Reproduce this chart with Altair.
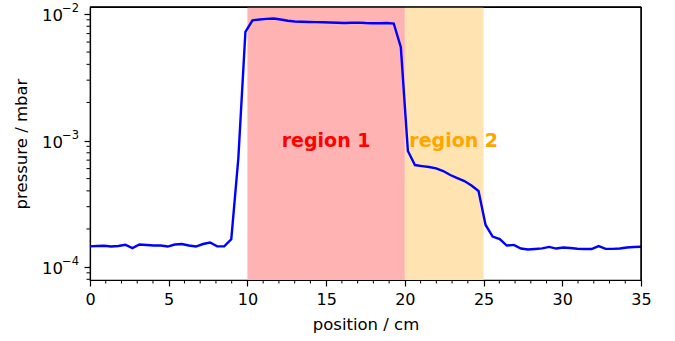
import altair as alt
import pandas as pd

# sample positions (cm)
position = [0.0, 0.449, 0.897, 1.346, 1.795, 2.244, 2.692, 3.141, 3.590, 4.038,
            4.487, 4.936, 5.385, 5.833, 6.282, 6.731, 7.179, 7.628, 8.077, 8.526,
            8.974, 9.423, 9.872, 10.321, 10.769, 11.218, 11.667, 12.115, 12.564, 13.013,
            13.462, 13.910, 14.359, 14.808, 15.256, 15.705, 16.154, 16.603, 17.051, 17.500,
            17.949, 18.397, 18.846, 19.295, 19.744, 20.192, 20.641, 21.090, 21.538, 21.987,
            22.436, 22.885, 23.333, 23.782, 24.231, 24.679, 25.128, 25.577, 26.026, 26.474,
            26.923, 27.372, 27.821, 28.269, 28.718, 29.167, 29.615, 30.064, 30.513, 30.962,
            31.410, 31.859, 32.308, 32.756, 33.205, 33.654, 34.103, 34.551, 35.000]

# pressure (mbar)
pressure = [1.457e-4, 1.466e-4, 1.474e-4, 1.452e-4, 1.466e-4, 1.501e-4, 1.413e-4, 1.507e-4, 1.493e-4, 1.479e-4,
            1.479e-4, 1.452e-4, 1.507e-4, 1.521e-4, 1.479e-4, 1.452e-4, 1.521e-4, 1.562e-4, 1.457e-4, 1.457e-4,
            1.656e-4, 7.27e-4, 7.21e-3, 8.92e-3, 9.05e-3, 9.16e-3, 9.21e-3, 9.05e-3, 8.84e-3, 8.73e-3,
            8.69e-3, 8.65e-3, 8.62e-3, 8.60e-3, 8.57e-3, 8.52e-3, 8.49e-3, 8.52e-3, 8.55e-3, 8.49e-3,
            8.46e-3, 8.46e-3, 8.49e-3, 8.41e-3, 5.46e-3, 8.26e-4, 6.40e-4, 6.28e-4, 6.17e-4, 6.03e-4,
            5.74e-4, 5.34e-4, 5.05e-4, 4.78e-4, 4.41e-4, 3.99e-4, 2.15e-4, 1.742e-4, 1.665e-4, 1.479e-4,
            1.497e-4, 1.400e-4, 1.375e-4, 1.388e-4, 1.405e-4, 1.444e-4, 1.400e-4, 1.426e-4, 1.413e-4, 1.395e-4,
            1.388e-4, 1.388e-4, 1.466e-4, 1.393e-4, 1.393e-4, 1.400e-4, 1.426e-4, 1.439e-4, 1.447e-4]

region_names = ["region 1", "region 2"]
region_start = [10, 20]
region_end = [20, 25]
region_fill = ["#ffb3b3", "#ffe4b2"]
region_text_color = ["#ff0000", "#ffa500"]
region_label_x = [15.0, 23.1]
region_label_y = [1e-3, 1e-3]

x_major = [0, 5, 10, 15, 20, 25, 30, 35]
x_minor = [v for v in range(1, 35) if v % 5 != 0]
y_major = [1e-4, 1e-3, 1e-2]
y_major_base = ["10", "10", "10"]
y_major_exp = ["−4", "−3", "−2"]
y_minor = [8e-5, 9e-5] + [m * 1e-4 for m in range(2, 10)] + [m * 1e-3 for m in range(2, 10)]

x_domain = [0, 35]
y_domain = [7.9e-5, 1.136e-2]

line_df = pd.DataFrame({"position": position, "pressure": pressure})
reg_df = pd.DataFrame({"name": region_names, "start": region_start, "end": region_end,
                       "fill": region_fill, "tcolor": region_text_color,
                       "lx": region_label_x, "ly": region_label_y})
xminor_df = pd.DataFrame({"v": x_minor})
yminor_df = pd.DataFrame({"v": y_minor})
ylab_df = pd.DataFrame({"v": y_major, "base": y_major_base, "exp": y_major_exp})
frame_df = pd.DataFrame({"edge": ["top", "right"]})

FONT = "DejaVu Sans"
W, H = 551, 273

xscale = alt.Scale(domain=x_domain, nice=False, zero=False)
yscale = alt.Scale(type="log", domain=y_domain, nice=False)

xaxis = alt.Axis(values=x_major, title="position / cm", grid=False, tickSize=6, tickWidth=1.2,
                 tickColor="black", domainColor="black", domainWidth=1.2,
                 labelFontSize=16, labelFont=FONT, labelColor="black", labelPadding=5,
                 titleFontSize=16.5, titleFont=FONT, titleFontWeight="normal", titleColor="black",
                 titlePadding=9, labelFlush=False)
yaxis = alt.Axis(values=y_major, title="pressure / mbar", grid=False, tickSize=6, tickWidth=1.2,
                 tickColor="black", domainColor="black", domainWidth=1.2,
                 labels=False,
                 titleFontSize=16.5, titleFont=FONT, titleFontWeight="normal", titleColor="black",
                 titlePadding=54)

rects = alt.Chart(reg_df).mark_rect().encode(
    x=alt.X("start:Q", scale=xscale, axis=xaxis),
    x2="end:Q",
    color=alt.Color("fill:N", scale=None),
)

line = alt.Chart(line_df).mark_line(color="#0000ff", strokeWidth=2.4).encode(
    x=alt.X("position:Q", scale=xscale, axis=xaxis),
    y=alt.Y("pressure:Q", scale=yscale, axis=yaxis),
)

labels = alt.Chart(reg_df).mark_text(font=FONT, fontSize=19, fontWeight="bold",
                                     align="center", baseline="middle").encode(
    x=alt.X("lx:Q", scale=xscale),
    y=alt.Y("ly:Q", scale=yscale),
    text="name:N",
    color=alt.Color("tcolor:N", scale=None),
)

ylab_base = alt.Chart(ylab_df).mark_text(font=FONT, fontSize=16.5, align="right",
                                         baseline="middle", dy=2, color="black").encode(
    y=alt.Y("v:Q", scale=yscale),
    x=alt.value(-27),
    text="base:N",
)
ylab_exp = alt.Chart(ylab_df).mark_text(font=FONT, fontSize=11.5, align="right",
                                        baseline="middle", dy=-5, color="black").encode(
    y=alt.Y("v:Q", scale=yscale),
    x=alt.value(-11),
    text="exp:N",
)

xminor = alt.Chart(xminor_df).mark_rule(color="black", strokeWidth=1).encode(
    x=alt.X("v:Q", scale=xscale),
    y=alt.value(H), y2=alt.value(H + 3.5),
)
yminor = alt.Chart(yminor_df).mark_rule(color="black", strokeWidth=1).encode(
    y=alt.Y("v:Q", scale=yscale),
    x=alt.value(-3.5), x2=alt.value(0),
)

top_edge = alt.Chart(frame_df).transform_filter("datum.edge == 'top'").mark_rule(
    color="black", strokeWidth=1.3).encode(
    x=alt.value(0), x2=alt.value(W), y=alt.value(0))
right_edge = alt.Chart(frame_df).transform_filter("datum.edge == 'right'").mark_rule(
    color="black", strokeWidth=1.3).encode(
    y=alt.value(0), y2=alt.value(H), x=alt.value(W))

chart = alt.layer(rects, line, labels, ylab_base, ylab_exp, xminor, yminor,
                  top_edge, right_edge).properties(
    width=W, height=H,
    background="white",
    padding={"left": 90, "top": 7, "right": 675 - 90 - W, "bottom": 341 - 7 - H},
    autosize=alt.AutoSizeParams(type="none"),
).configure_view(stroke="black", strokeWidth=1.2)

chart.save("out.html", embed_options={"renderer": "svg", "actions": False})
